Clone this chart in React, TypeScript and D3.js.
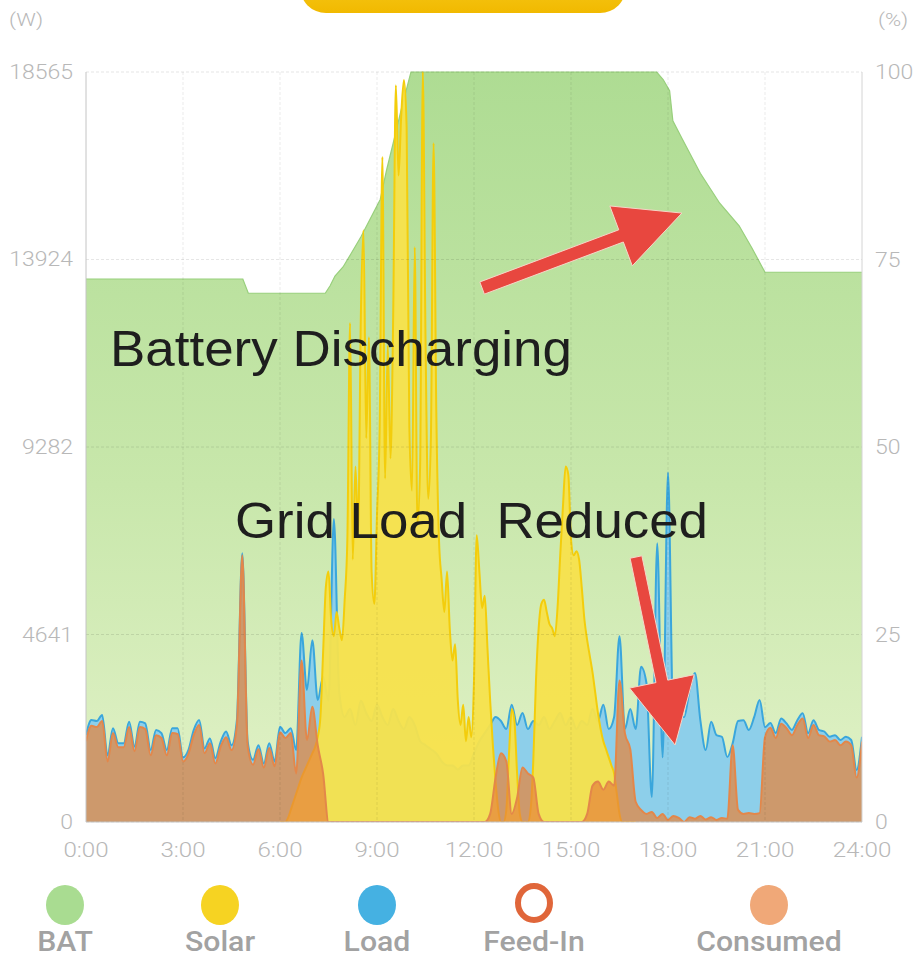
import React from "react";
import * as d3 from "d3";

// ---------- data ----------
const hourTickLabels = ["0:00", "3:00", "6:00", "9:00", "12:00", "15:00", "18:00", "21:00", "24:00"];
const hourTicks = [0, 3, 6, 9, 12, 15, 18, 21, 24];
const powerTicks = [0, 4641, 9282, 13924, 18565];
const percentTicks = [0, 25, 50, 75, 100];

// Load & grid-consumed power (W), one value every 10 minutes from 0:00 to 24:00
const sampleMinutes = 10;
const loadW = [
  2150, 2525, 2500, 2650, 1650, 2320, 1950, 1950, 2480, 1870,
  2480, 2440, 1780, 2280, 2200, 1780, 2320, 2320, 1600, 1780,
  2280, 2525, 1820, 2070, 1580, 1990, 2240, 1900, 2525, 6650,
  1990, 1540, 1900, 1450, 1950, 1500, 2360, 2200, 2320, 1780,
  4680, 3270, 4500, 3020, 3590, 3000, 7500, 3200, 2600, 2800,
  2400, 3000, 2700, 2500, 2900, 2600, 2400, 2800, 2500, 2300,
  2600, 2400, 2000, 1900, 1800, 1700, 1500, 1400, 1400, 1300,
  1400, 1400, 1700, 2000, 2200, 2400, 2600, 2500, 2300, 2900,
  2400, 2700, 2300, 2500, 2400, 2600, 2300, 2500, 2700, 2400,
  2600, 2300, 2500, 2400, 2800, 2500, 2900, 2300, 2600, 4600,
  2300, 2800, 2300, 3840, 3440, 620, 6900, 1600, 8650, 2450,
  2600, 2600, 3270, 3690, 2520, 1780, 2480, 2150, 2110, 1610,
  1950, 2500, 2520, 2280, 2600, 3020, 2350, 2450, 2200, 2560,
  2440, 2280, 2520, 2690, 2200, 2520, 2280, 2240, 2110, 2150,
  2030, 2110, 2030, 1290, 2110,
];
const consumedW = [
  2000, 2380, 2350, 2500, 1500, 2200, 1850, 1850, 2350, 1750,
  2350, 2300, 1650, 2150, 2080, 1650, 2200, 2180, 1500, 1680,
  2150, 2400, 1700, 1950, 1450, 1870, 2100, 1780, 2400, 6600,
  1880, 1420, 1800, 1350, 1830, 1380, 2220, 2080, 2200, 1200,
  4000, 2030, 2850, 1900, 1200, 0, 0, 0, 0, 0,
  0, 0, 0, 0, 0, 0, 0, 0, 0, 0,
  0, 0, 0, 0, 0, 0, 0, 0, 0, 0,
  0, 0, 0, 0, 0, 200, 1100, 1700, 1500, 200,
  600, 1350, 1200, 1100, 200, 0, 0, 0, 0, 0,
  0, 0, 0, 200, 900, 1000, 800, 1000, 900, 3500,
  2200, 1800, 500, 300, 200, 250, 100, 200, 50, 150,
  100, 0, 120, 80, 150, 60, 120, 50, 100, 80,
  1900, 300, 200, 220, 200, 220, 2100, 2330, 2080, 2430,
  2320, 2150, 2400, 2560, 2080, 2400, 2150, 2120, 1990, 2030,
  1900, 1990, 1900, 1100, 1990,
];

// Solar power (W), one value every 5 minutes from 6:00 to 17:00
const solarStartHour = 6;
const solarSampleMinutes = 5;
const solarW = [
  0, 0, 0, 100, 300, 500, 700, 900, 1100, 1250,
  1400, 1550, 1700, 1850, 2100, 2600, 4200, 5800, 6200, 5000,
  4600, 5200, 4800, 4500, 5500, 7000, 12350, 6500, 8800, 7200,
  12500, 14650, 9500, 12000, 6200, 5400, 7600, 9800, 16460, 8500,
  11800, 9000, 12500, 18240, 16000, 17500, 18365, 17200, 9800, 8200,
  14230, 7400, 8800, 18565, 12000, 8000, 9500, 16800, 10200, 7000,
  6000, 5200, 6200, 4800, 4000, 4400, 3000, 2400, 2900, 2000,
  2600, 2100, 3500, 7100, 6200, 5300, 5600, 4300, 3000, 1900,
  1000, 300, 0, 0, 300, 1700, 2800, 2500, 1200, 200,
  0, 0, 0, 300, 1500, 3500, 4800, 5400, 5500, 5200,
  4900, 4800, 4600, 5300, 6600, 7800, 8800, 8600, 7000, 6600,
  6700, 6500, 5800, 5000, 4500, 4100, 3700, 3200, 2700, 2300,
  2000, 1800, 1600, 1400, 1200, 700, 200, 0, 0, 0,
  0, 0, 0,
];

// Battery state of charge (%)
const batHour = [0, 4.85, 5.02, 7.4, 7.55, 7.7, 7.95, 8.2, 8.5, 8.8, 9.1, 9.3, 9.5, 9.75, 10.05, 17.65, 17.85, 18.05, 18.15, 18.45, 19.0, 19.6, 20.2, 20.6, 21.0, 24];
const batPercent = [72.4, 72.4, 70.5, 70.5, 71.5, 72.8, 74, 75.8, 78, 80.5, 83, 87, 90.5, 95, 100, 100, 99, 97.5, 93.5, 91, 86.5, 82.5, 79.5, 76.5, 73.3, 73.3];

const legendNames = ["BAT", "Solar", "Load", "Feed-In", "Consumed"];
const legendColors = ["#a9dc91", "#f6d322", "#45b1e2", "#e0663a", "#f0a878"];
const legendX = [65, 220, 377, 534, 769];

const powerMax = 18565;

// ---------- layout ----------
const WIDTH = 915;
const HEIGHT = 961;
const PL = 86, PR = 862, PT = 72, PB = 822;

type Pt = { h: number; v: number };

function arrowPoints(x1: number, y1: number, x2: number, y2: number, shaft: number, headLen: number, headHalf: number) {
  const dx = x2 - x1, dy = y2 - y1;
  const len = Math.hypot(dx, dy);
  const ux = dx / len, uy = dy / len;
  const nx = -uy, ny = ux;
  const bx = x2 - ux * headLen, by = y2 - uy * headLen;
  const s = shaft / 2;
  const pts = [
    [x1 + nx * s, y1 + ny * s],
    [bx + nx * s, by + ny * s],
    [bx + nx * headHalf, by + ny * headHalf],
    [x2, y2],
    [bx - nx * headHalf, by - ny * headHalf],
    [bx - nx * s, by - ny * s],
    [x1 - nx * s, y1 - ny * s],
  ];
  return pts.map((p) => p.join(",")).join(" ");
}

export default function App() {
  const x = d3.scaleLinear().domain([0, 24]).range([PL, PR]);
  const yW = d3.scaleLinear().domain([0, powerMax]).range([PB, PT]);
  const yP = d3.scaleLinear().domain([0, 100]).range([PB, PT]);

  const loadData: Pt[] = loadW.map((v, i) => ({ h: (i * sampleMinutes) / 60, v }));
  const consumedData: Pt[] = consumedW.map((v, i) => ({ h: (i * sampleMinutes) / 60, v }));
  const solarData: Pt[] = solarW.map((v, i) => ({ h: solarStartHour + (i * solarSampleMinutes) / 60, v }));
  const batData: Pt[] = batHour.map((h, i) => ({ h, v: batPercent[i] }));

  const areaW = d3.area<Pt>().x((d) => x(d.h)).y0(yW(0)).y1((d) => yW(d.v)).curve(d3.curveMonotoneX);
  const lineW = d3.line<Pt>().x((d) => x(d.h)).y((d) => yW(d.v)).curve(d3.curveMonotoneX);
  const areaP = d3.area<Pt>().x((d) => x(d.h)).y0(yP(0)).y1((d) => yP(d.v)).curve(d3.curveLinear);
  const lineP = d3.line<Pt>().x((d) => x(d.h)).y((d) => yP(d.v)).curve(d3.curveLinear);

  const axisText = {
    fill: "#b8b8b8",
    fontFamily: "Roboto, 'Liberation Sans', sans-serif",
    fontWeight: 300,
    fontSize: 20,
  } as const;
  const stretch = (tx: number, ty: number, k = 1.15) => `translate(${tx},${ty}) scale(${k},1)`;

  // annotation arrows in data coordinates (hour, W)
  const a1 = arrowPoints(x(12.25), yW(13217), x(18.43), yW(15073), 13, 65, 32);
  const a2 = arrowPoints(x(17.01), yW(6559), x(18.22), yW(1906), 12, 65, 33);

  return (
    <svg width={WIDTH} height={HEIGHT} style={{ position: "absolute", left: 0, top: 0, background: "#fff" }}>
      <defs>
        <linearGradient id="batGrad" gradientUnits="userSpaceOnUse" x1="0" y1={PT} x2="0" y2={PB}>
          <stop offset="0%" stopColor="#aedc93" />
          <stop offset="55%" stopColor="#c8e7ab" />
          <stop offset="100%" stopColor="#e2f2c8" />
        </linearGradient>
        <linearGradient id="btnGrad" x1="0" y1="0" x2="0" y2="1">
          <stop offset="0%" stopColor="#f9d32a" />
          <stop offset="100%" stopColor="#f1b900" />
        </linearGradient>
        <clipPath id="plotClip">
          <rect x={PL} y={PT - 1} width={PR - PL} height={PB - PT + 1} />
        </clipPath>
      </defs>

      {/* top button */}
      <rect x={300} y={-42} width={326} height={55} rx={26} fill="url(#btnGrad)" />

      {/* unit labels */}
      <text transform={stretch(9, 26)} {...axisText} fontSize={19}>(W)</text>
      <text transform={stretch(878, 26)} {...axisText} fontSize={19}>(%)</text>

      {/* series */}
      <g clipPath="url(#plotClip)">
        <path d={areaP(batData) || ""} fill="url(#batGrad)" />
        <path d={lineP(batData) || ""} fill="none" stroke="#98cf7c" strokeWidth={1.2} />

        <path d={areaW(loadData) || ""} fill="#8dcfea" />
        <path d={lineW(loadData) || ""} fill="none" stroke="#3aa6dc" strokeWidth={2} />

        <path d={areaW(solarData) || ""} fill="#f7e24c" fillOpacity={0.95} />
        <path d={lineW(solarData) || ""} fill="none" stroke="#f3cd0c" strokeWidth={2} />

        <path d={areaW(consumedData) || ""} fill="#e6843c" fillOpacity={0.72} />
        <path d={lineW(consumedData) || ""} fill="none" stroke="#e3874a" strokeWidth={2} />
      </g>

      {/* grid */}
      <g>
        {powerTicks.map((t) => (
          <line key={"h" + t} x1={PL} x2={PR} y1={yW(t)} y2={yW(t)} stroke="#000" strokeOpacity={0.1} strokeDasharray="3 2" />
        ))}
        {hourTicks.slice(1, -1).map((t) => (
          <line key={"v" + t} x1={x(t)} x2={x(t)} y1={PT} y2={PB} stroke="#000" strokeOpacity={0.08} strokeDasharray="3 2" />
        ))}
        <line x1={PL} x2={PL} y1={PT} y2={PB} stroke="#c4c4c4" />
        <line x1={PR} x2={PR} y1={PT} y2={PB} stroke="#d4d4d4" />
        <line x1={PL} x2={PR} y1={PB} y2={PB} stroke="#c8c8c8" />
      </g>

      {/* axis labels */}
      {powerTicks.map((t) => (
        <text key={"l" + t} transform={stretch(73, yW(t) + 7)} textAnchor="end" {...axisText}>{t}</text>
      ))}
      {percentTicks.map((t) => (
        <text key={"r" + t} transform={stretch(875, yP(t) + 7)} textAnchor="start" {...axisText}>{t}</text>
      ))}
      {hourTicks.map((t, i) => (
        <text key={"b" + t} transform={stretch(x(t), 857)} textAnchor="middle" {...axisText} fontSize={21}>{hourTickLabels[i]}</text>
      ))}

      {/* annotations */}
      <text x={110} y={366} fontFamily="'Liberation Sans', Arial, sans-serif" fontSize={50} fill="#1e1e1e" textLength={462} lengthAdjust="spacingAndGlyphs">Battery Discharging</text>
      <text x={235} y={538} fontFamily="'Liberation Sans', Arial, sans-serif" fontSize={50} fill="#1e1e1e" textLength={473} lengthAdjust="spacingAndGlyphs" style={{ whiteSpace: "pre" }}>{"Grid Load  Reduced"}</text>
      <polygon points={a1} fill="#e8473f" stroke="#f6d6c8" strokeWidth={1} strokeLinejoin="round" />
      <polygon points={a2} fill="#e8473f" stroke="#f6d6c8" strokeWidth={1} strokeLinejoin="round" />

      {/* legend */}
      {legendNames.map((name, i) => (
        <g key={name}>
          {name === "Feed-In" ? (
            <ellipse cx={legendX[i]} cy={903} rx={16} ry={17} fill="#fff" stroke={legendColors[i]} strokeWidth={6} />
          ) : (
            <ellipse cx={legendX[i]} cy={905} rx={19} ry={20} fill={legendColors[i]} />
          )}
          <text transform={stretch(legendX[i], 951, 1.12)} textAnchor="middle" fontFamily="Roboto, 'Liberation Sans', sans-serif" fontWeight={500} fontSize={27} fill="#a2a2a2">{name}</text>
        </g>
      ))}
    </svg>
  );
}
